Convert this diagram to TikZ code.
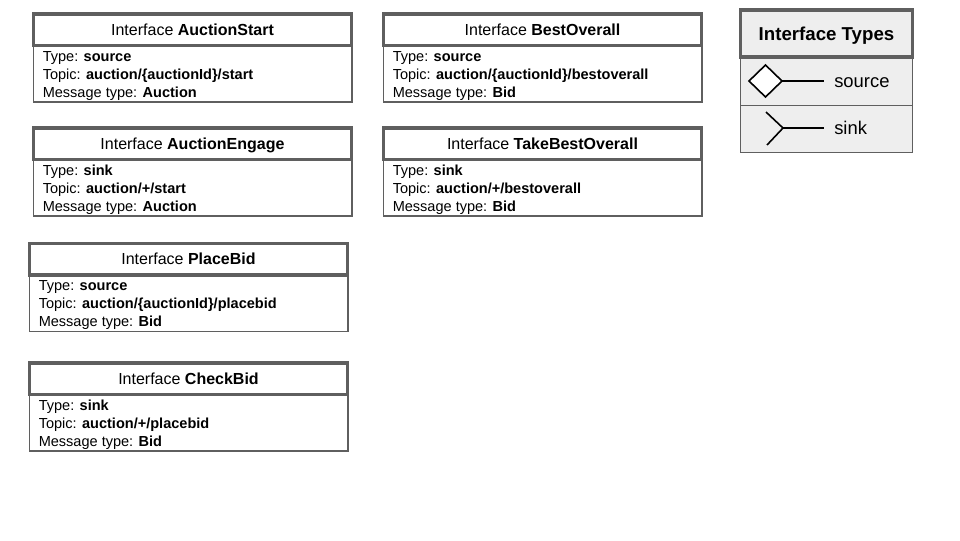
\documentclass[tikz,border=0pt]{standalone}
\usepackage{fontspec}
\setmainfont{Liberation Sans}
\definecolor{edge}{HTML}{5F5F5F}
\definecolor{legendfill}{HTML}{EEEEEE}
\tikzset{
  x=0.75pt,y=-0.75pt,
  bodybox/.style={draw=edge,line width=1.1pt,fill=white,inner sep=0,rectangle},
  headbox/.style={draw=edge,line width=2.6pt,fill=white},
  headtext/.style={font=\fontsize{12}{14}\selectfont,text=black,inner sep=0,anchor=base},
  rowtext/.style={font=\fontsize{10.9}{13}\selectfont,text=black,inner sep=0,anchor=base west},
  legbox/.style={draw=edge,line width=0.75pt,fill=legendfill},
  leghead/.style={draw=edge,line width=2.6pt,fill=legendfill},
  legtext/.style={font=\fontsize{13.8}{16}\selectfont,text=black,inner sep=0,anchor=base west},
  glyph/.style={draw=black,line width=1.2pt},
}
\newcommand{\ifacebox}[8]{%
  \draw[bodybox] (#2+0.5,#3+33) rectangle (#4-0.2,#3+89);
  \draw[headbox] (#2+0.5,#3+1) rectangle (#4-0.5,#3+32.5);
  \node[headtext] (#1-head) at ({(#2+#4)/2},#3+22) {Interface \textbf{#5}};
  \node[rowtext] (#1-type) at (#2+9.5,#3+48) {Type: \textbf{#6}};
  \node[rowtext] (#1-topic) at (#2+9.5,#3+66) {Topic: \textbf{#7}};
  \node[rowtext] (#1-msg) at (#2+9.5,#3+84) {Message type: \textbf{#8}};
}
\begin{document}
\begin{tikzpicture}
\useasboundingbox (0,0) rectangle (960,540);
\ifacebox{a}{33}{13}{352}{AuctionStart}{source}{auction/\{auctionId\}/start}{Auction}
\ifacebox{b}{383}{13}{702}{BestOverall}{source}{auction/\{auctionId\}/bestoverall}{Bid}
\ifacebox{c}{33}{127}{352}{AuctionEngage}{sink}{auction/+/start}{Auction}
\ifacebox{d}{383}{127}{702}{TakeBestOverall}{sink}{auction/+/bestoverall}{Bid}
\ifacebox{e}{29}{242.7}{348}{PlaceBid}{source}{auction/\{auctionId\}/placebid}{Bid}
\ifacebox{f}{29}{362}{348}{CheckBid}{sink}{auction/+/placebid}{Bid}
% legend
\draw[legbox] (740.5,57) rectangle (912.5,105);
\draw[legbox] (740.5,105) rectangle (912.5,152);
\draw[leghead] (740.7,10) rectangle (912.7,57);
\node[font=\fontsize{14}{16}\selectfont\bfseries,inner sep=0,anchor=base] (lt) at (826.5,40) {Interface Types};
\node[legtext] (ls) at (834,87) {source};
\node[legtext] (lk) at (834,134) {sink};
\coordinate (srcL) at (749,81);
\coordinate (srcR) at (782,81);
\coordinate (srcT) at (765.5,65);
\coordinate (srcB) at (765.5,97);
\coordinate (srcE) at (824,81);
\draw[glyph,fill=white] (srcL) -- (srcT) -- (srcR) -- (srcB) -- cycle;
\draw[glyph] (srcR) -- (srcE);
\coordinate (skA) at (766,112);
\coordinate (skB) at (767,145);
\coordinate (skC) at (783,128);
\coordinate (skE) at (824,128);
\draw[glyph] (skA) -- (skC) -- (skB);
\draw[glyph] (skC) -- (skE);
\end{tikzpicture}
\end{document}
